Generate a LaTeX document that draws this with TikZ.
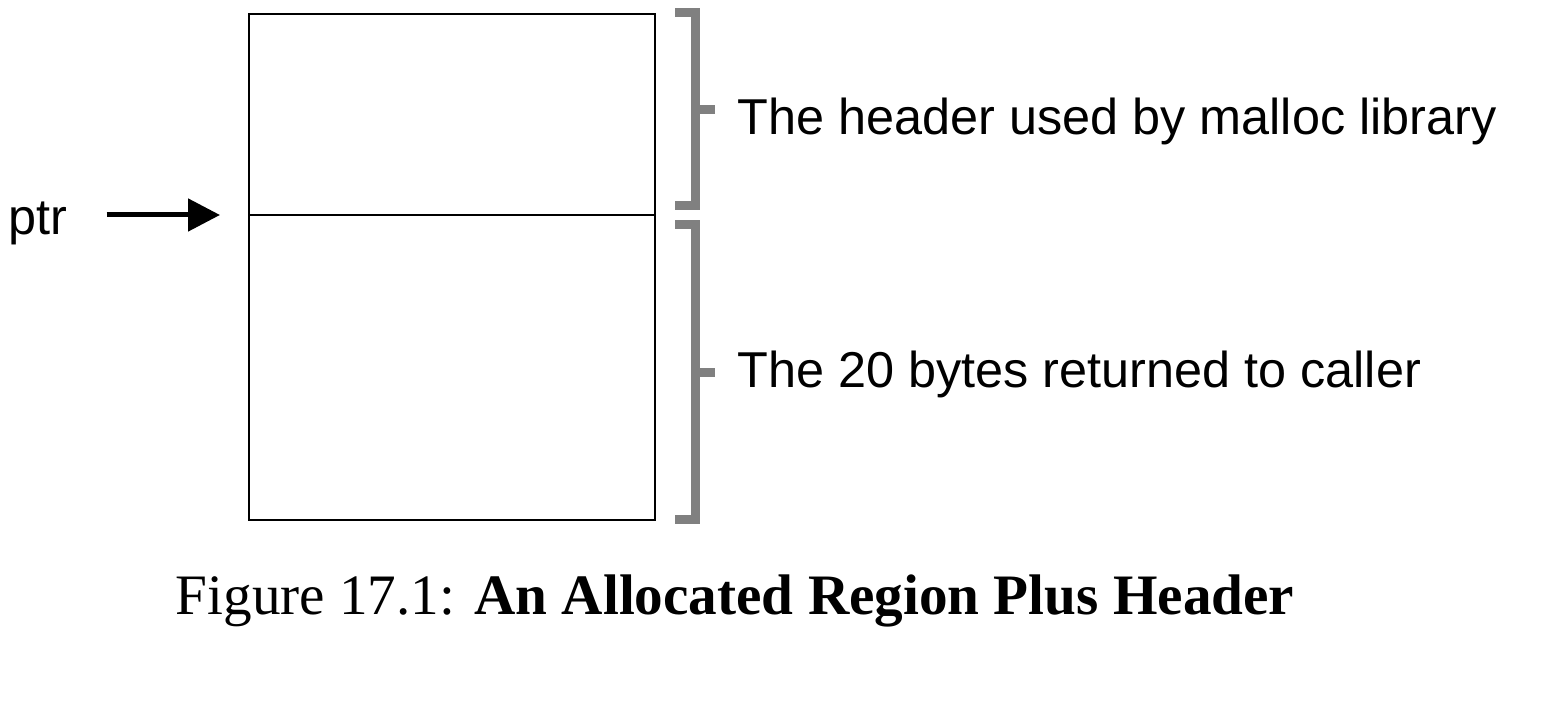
\documentclass[tikz,border=0pt]{standalone}
\usepackage{fontspec}
\usepackage{tikz}
\usetikzlibrary{arrows.meta,positioning}
\newfontfamily\labelfont{Liberation Sans}
\newfontfamily\capfont{Liberation Serif}
\definecolor{bracketgray}{HTML}{808080}
\tikzset{
  cell/.style     = {draw, line width=1.2pt, minimum width=203pt,
                     inner sep=0pt, outer sep=0pt},
  lbl/.style      = {inner sep=0pt, font=\labelfont\fontsize{25.2}{30}\selectfont},
  ptrarrow/.style = {line width=2.5pt, -{Triangle[length=16pt,width=16pt]}},
  brace/.style    = {draw=bracketgray, line width=4.5pt, line join=miter}
}

\begin{document}
\begin{tikzpicture}[x=0.5pt,y=-0.5pt]
	\useasboundingbox (0,0) rectangle (1556,704);
	% the block
	\node[cell, minimum height=100.5pt, anchor=north west] (header) at (249,14) {};
	\node[cell, minimum height=152.5pt, anchor=north] (payload) at (header.south) {};
	% the pointer
	\node[lbl, anchor=base west] (ptr) at (8,235) {ptr};
	\draw[ptrarrow, shorten >=14.5pt] ([xshift=19.5pt]ptr.east |- header.south west) -- (header.south west);
	% brackets
	\coordinate (hdrtip) at (715,110);
	\coordinate (paytip) at (715,373);
	\draw[brace] (675,13) -- (695,13) -- (695,206) -- (675,206);
	\draw[brace] (675,225) -- (695,225) -- (695,520) -- (675,520);
	\draw[brace] (695,110) -- (hdrtip);
	\draw[brace] (695,373) -- (paytip);
	\node[lbl, anchor=base west] (hdrtext) at (737,135) {The header used by malloc library};
	\node[lbl, anchor=base west] (paytext) at (737,388) {The 20 bytes returned to caller};
	% caption
	\node[anchor=base, inner sep=0pt, font=\capfont\fontsize{28.6}{32}\selectfont] (caption)
		at (735,614) {Figure 17.1: \textbf{An Allocated Region Plus Header}};
\end{tikzpicture}
\end{document}
